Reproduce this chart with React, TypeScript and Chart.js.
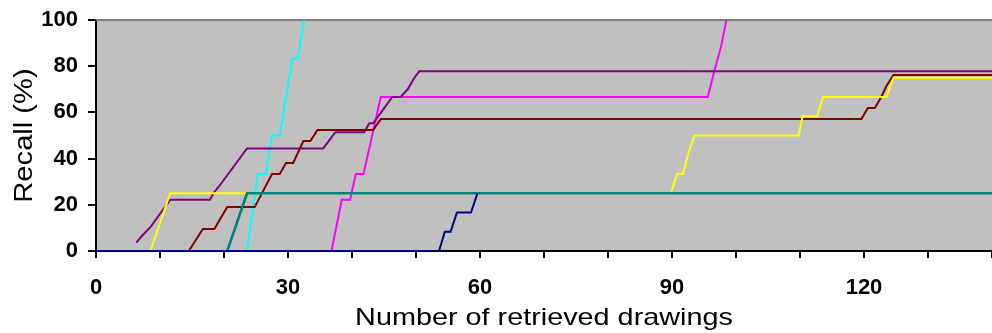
import React, { useEffect, useRef } from "react";
import { Chart, registerables } from "chart.js";

Chart.register(...registerables);

const xTitle = "Number of retrieved drawings";
const yTitle = "Recall (%)";
const xLabelEvery = 30;

const navyX = [0, 53.6, 54.5, 55.4, 56.4, 58.6, 59.6];
const navyY = [0, 0, 8.3, 8.3, 16.7, 16.7, 25];

const tealX = [20.5, 22.8, 23.6, 140];
const tealY = [0, 18.5, 25, 25];

const yellowX = [8.5, 11.6, 89.8, 90.8, 91.7, 92.5, 93.5, 109.8, 110.4, 112.7, 113.6, 123.5, 124.6, 140];
const yellowY = [0, 25, 25, 33.3, 33.3, 41.7, 50, 50, 58.3, 58.3, 66.7, 66.7, 75, 75];

const magentaX = [36.8, 38.4, 39.7, 40.6, 41.8, 44.5, 95.6, 96.6, 97.7, 98.5];
const magentaY = [0, 22.2, 22.2, 33.3, 33.3, 66.7, 66.7, 77.8, 88.9, 100];

const purpleX = [6.3, 7.2, 8.5, 11.6, 17.8, 18.4, 19.5, 23.6, 35.5, 37.4, 41.9, 42.7, 43.3, 46.3, 47.6, 48.7, 49.7, 50.5, 140];
const purpleY = [3.6, 6.6, 10.3, 22.2, 22.2, 25.2, 29, 44.4, 44.4, 51.4, 51.4, 55.3, 55.3, 66.7, 66.7, 70, 74.8, 77.8, 77.8];

const darkRedX = [14.5, 16.7, 18.5, 20.5, 24.8, 27.5, 28.7, 29.7, 30.8, 32.4, 33.5, 34.6, 43.3, 44.5, 119.6, 120.6, 121.7, 122.7, 123.5, 124.6, 140];
const darkRedY = [0, 9.5, 9.5, 19, 19, 33.3, 33.3, 38.1, 38.1, 47.6, 47.6, 52.4, 52.4, 57.1, 57.1, 61.9, 61.9, 66.7, 71.4, 76.2, 76.2];

const cyanX = [23.6, 25.3, 26.5, 27.5, 28.7, 30.7, 31.5, 32.5];
const cyanY = [0, 33.3, 33.3, 50, 50, 83.3, 83.3, 100];

const pts = (xs: number[], ys: number[]) => xs.map((x, i) => ({ x, y: ys[i] }));

const FONT = '"Liberation Sans", Arial, sans-serif';

const bgPlugin = {
  id: "bgPlugin",
  beforeDraw(chart: any) {
    const { ctx, chartArea } = chart;
    ctx.save();
    ctx.fillStyle = "#C0C0C0";
    ctx.fillRect(chartArea.left, chartArea.top, chartArea.right - chartArea.left, chartArea.bottom - chartArea.top);
    ctx.restore();
  },
  beforeDatasetsDraw(chart: any) {
    const { ctx, chartArea } = chart;
    ctx.save();
    ctx.strokeStyle = "#808080";
    ctx.lineWidth = 2;
    ctx.beginPath();
    ctx.moveTo(chartArea.left, chartArea.top);
    ctx.lineTo(chartArea.right, chartArea.top);
    ctx.stroke();
    ctx.restore();
  },
  afterDraw(chart: any) {
    const { ctx, chartArea } = chart;
    ctx.save();
    ctx.fillStyle = "#000";
    ctx.textAlign = "center";
    ctx.textBaseline = "alphabetic";
    ctx.font = `24px ${FONT}`;
    ctx.translate((chartArea.left + chartArea.right) / 2, 325);
    ctx.scale(1.2, 1);
    ctx.fillText(xTitle, 0, 0);
    ctx.restore();

    ctx.save();
    ctx.fillStyle = "#000";
    ctx.textAlign = "center";
    ctx.textBaseline = "alphabetic";
    ctx.font = `25px ${FONT}`;
    ctx.translate(31.5, (chartArea.top + chartArea.bottom) / 2);
    ctx.rotate(-Math.PI / 2);
    ctx.scale(1.165, 1);
    ctx.fillText(yTitle, 0, 0);
    ctx.restore();
  },
};

export default function App() {
  const ref = useRef<HTMLCanvasElement>(null);
  useEffect(() => {
    document.body.style.margin = "0";
    const line = (data: any, color: string, width = 2) => ({
      data,
      borderColor: color,
      backgroundColor: color,
      borderWidth: width,
      pointRadius: 0,
      tension: 0,
      fill: false,
    });
    const chart = new Chart(ref.current!, {
      type: "line",
      data: {
        datasets: [
          line(pts(navyX, navyY), "#000080"),
          line(pts(tealX, tealY), "#008080", 2.6),
          line(pts(yellowX, yellowY), "#FFFF00"),
          line(pts(darkRedX, darkRedY), "#800000"),
          line(pts(purpleX, purpleY), "#800080"),
          line(pts(magentaX, magentaY), "#FF00FF"),
          line(pts(cyanX, cyanY), "#00FFFF"),
        ],
      },
      options: {
        animation: false,
        responsive: false,
        layout: { padding: { top: 20, right: 0, left: 0, bottom: 0 } },
        plugins: { legend: { display: false }, tooltip: { enabled: false } },
        scales: {
          x: {
            type: "linear",
            min: 0,
            max: 140,
            afterFit: (s: any) => {
              s.height = 82;
              s.paddingLeft = 0;
              s.paddingRight = 0;
            },
            ticks: {
              stepSize: 10,
              autoSkip: false,
              maxRotation: 0,
              padding: 17,
              color: "#000",
              font: { family: FONT, size: 22, weight: "bold" },
              callback: (v: any) => (Number(v) % xLabelEvery === 0 ? String(v) : ""),
            },
            grid: { drawOnChartArea: false, drawTicks: true, tickLength: 7, tickColor: "#000", lineWidth: 2 },
            border: { display: true, color: "#000", width: 2 },
          },
          y: {
            min: 0,
            max: 100,
            afterFit: (s: any) => {
              s.width = 96;
              s.paddingTop = 0;
              s.paddingBottom = 0;
            },
            ticks: {
              stepSize: 20,
              padding: 10,
              color: "#000",
              font: { family: FONT, size: 22, weight: "bold" },
            },
            grid: { drawOnChartArea: false, drawTicks: true, tickLength: 8, tickColor: "#000", lineWidth: 2 },
            border: { display: true, color: "#000", width: 2 },
          },
        },
      },
      plugins: [bgPlugin],
    });
    return () => chart.destroy();
  }, []);
  return (
    <div style={{ width: 992, height: 333 }}>
      <canvas ref={ref} width={992} height={333} style={{ display: "block" }} />
    </div>
  );
}
